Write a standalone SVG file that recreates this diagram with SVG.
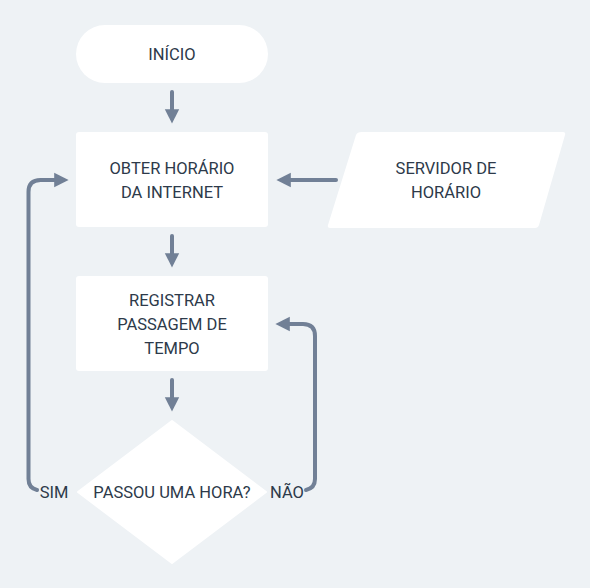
<svg xmlns="http://www.w3.org/2000/svg" width="590" height="588" viewBox="0 0 590 588">
<style>
.n{fill:#ffffff}
.t{font-family:Roboto,"Noto Sans",sans-serif;font-size:16.5px;fill:#2d3a4a;text-anchor:middle}
.c{fill:none;stroke:#718096;stroke-width:4;stroke-linecap:round;stroke-linejoin:round}
</style>
<defs>
<marker id="ah" markerWidth="4" markerHeight="4" refX="2.2" refY="2" orient="auto" markerUnits="strokeWidth" viewBox="0 0 4 4">
<path d="M0,0.2 L3.6,2 L0,3.8 Z" fill="#718096"/>
</marker>
</defs>
<rect width="590" height="588" fill="#eef2f5"/>
<g id="inicio">
<rect class="n" x="76" y="25" width="192" height="58" rx="29"/>
<text class="t" x="172" y="60">INÍCIO</text>
</g>
<g id="obter">
<rect class="n" x="76" y="132" width="192" height="95" rx="3"/>
<text class="t" x="172" y="174">OBTER HORÁRIO</text>
<text class="t" x="172" y="198">DA INTERNET</text>
</g>
<g id="servidor">
<path class="n" d="M362,132 L563,132 Q566,132 565,135 L539,225 Q538,228 535,228 L330,228 Q327,228 328,225 L356,135 Q357,132 362,132 Z"/>
<text class="t" x="446" y="174">SERVIDOR DE</text>
<text class="t" x="446" y="198">HORÁRIO</text>
</g>
<g id="registrar">
<rect class="n" x="76" y="276" width="192" height="95" rx="3"/>
<text class="t" x="172" y="306">REGISTRAR</text>
<text class="t" x="172" y="330">PASSAGEM DE</text>
<text class="t" x="172" y="354">TEMPO</text>
</g>
<g id="decisao">
<path class="n" d="M172,421 L266,492 L172,563 L78,492 Z" stroke="#ffffff" stroke-width="2" stroke-linejoin="round"/>
<text class="t" x="172" y="498">PASSOU UMA HORA?</text>
</g>
<g id="connectors">
<path class="c" d="M37,490 Q28.5,488 28.5,479 L28.5,192 Q28.5,180 40.5,180 L63,180" marker-end="url(#ah)"/>
<path class="c" d="M306,490 Q315,488 315,479 L315,336 Q315,324 303,324 L281,324" marker-end="url(#ah)"/>
<path class="c" d="M172,92 L172,118" marker-end="url(#ah)"/>
<path class="c" d="M172,236 L172,262" marker-end="url(#ah)"/>
<path class="c" d="M172,380 L172,406" marker-end="url(#ah)"/>
<path class="c" d="M336,180 L282,180" marker-end="url(#ah)"/>
<text class="t" x="54" y="498">SIM</text>
<text class="t" x="287" y="498">NÃO</text>
</g>
</svg>
